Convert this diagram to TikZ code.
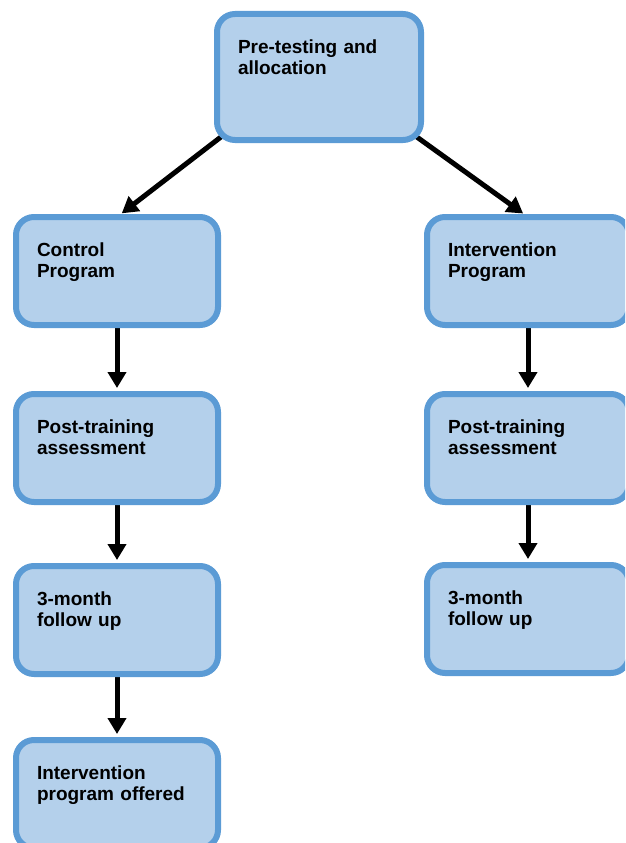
\documentclass[tikz,border=0pt]{standalone}
\usepackage{fontspec}
\setmainfont{Liberation Sans}
\usepackage{tikz}
\usetikzlibrary{arrows.meta,backgrounds}
\definecolor{boxblue}{RGB}{91,155,213}
\definecolor{boxfill}{RGB}{180,208,235}
\tikzset{
    stage/.style={draw=boxblue, fill=boxfill, line width=6pt, rounded corners=18pt, outer sep=0pt,
        anchor=north west, text width=160pt, align=left, inner xsep=21pt, inner ysep=26pt,
        text height=13pt, text depth=43pt, font=\bfseries\fontsize{19}{21.5}\selectfont},
    flow/.style={line width=5pt, -{Triangle[length=16pt,width=18pt]}, shorten >=6pt}
}
\begin{document}
\begin{tikzpicture}[x=1pt,y=-1pt]
    \useasboundingbox (0,0) rectangle (625,843);
    \clip (0,0) rectangle (625,843);
    % Top box
    \node[stage, text width=162pt, text depth=61pt] (pre) at (217,14) {Pre-testing and\\allocation};
    % Left column
    \node[stage] (ctrl)  at (16,217) {Control\\Program};
    \node[stage] (postC) at (16,394) {Post-training\\assessment};
    \node[stage] (follC) at (16,566) {3-month\\follow up};
    \node[stage] (offer) at (16,740) {Intervention\\program offered};
    % Right column
    \node[stage] (intv)  at (427,217) {Intervention\\Program};
    \node[stage] (postI) at (427,394) {Post-training\\assessment};
    \node[stage] (follI) at (427,565) {3-month\\follow up};
    \begin{scope}[on background layer]
        \draw[flow, shorten <=-14pt] (pre.south west) -- (ctrl.north);
        \draw[flow, shorten <=-14pt] (pre.south east) -- (intv.north);
        \draw[flow] (ctrl.south)  -- (postC.north);
        \draw[flow] (postC.south) -- (follC.north);
        \draw[flow] (follC.south) -- (offer.north);
        \draw[flow] (intv.south)  -- (postI.north);
        \draw[flow] (postI.south) -- (follI.north);
    \end{scope}
\end{tikzpicture}
\end{document}
